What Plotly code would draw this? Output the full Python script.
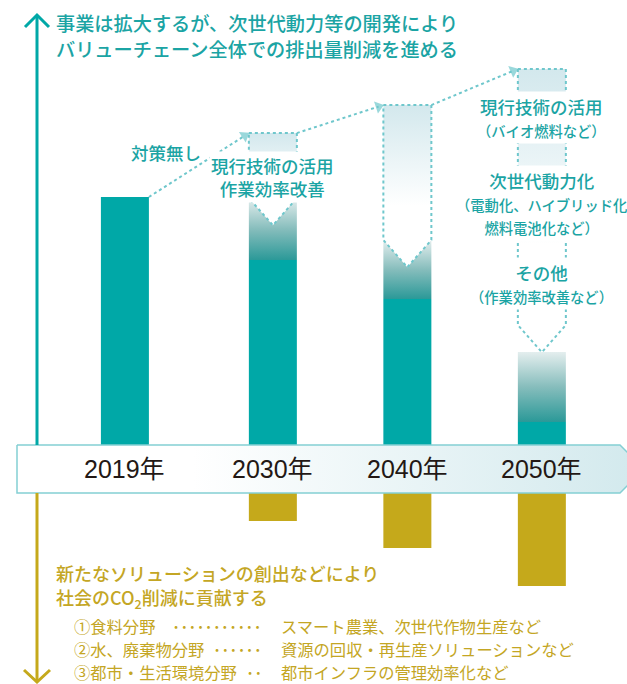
import math
import plotly.graph_objects as go

# ---------------- data ----------------
years = [2019, 2030, 2040, 2050]
year_labels = ["2019年", "2030年", "2040年", "2050年"]
no_action = [100.0, 123.5, 133.8, 147.1]      # emissions without measures (index, 2019 = 100)
reduction_start = [None, 99.6, 84.2, 52.9]    # lower edge of the reduction arrow
fade_top = [None, 99.6, 84.2, 43.0]           # upper edge of the fading part of the bar
emissions = [100.0, 76.8, 62.5, 17.3]         # emissions after measures
contribution = [0.0, -19.1, -29.0, -43.0]     # contribution to society's CO2 reduction

header_lines = ["事業は拡大するが、次世代動力等の開発により",
                "バリューチェーン全体での排出量削減を進める"]
bau_label = "対策無し"
measures_2030 = ["現行技術の活用", "作業効率改善"]
measures_2050 = [("現行技術の活用", ["（バイオ燃料など）"]),
                 ("次世代動力化", ["（電動化、ハイブリッド化", "燃料電池化など）"]),
                 ("その他", ["（作業効率改善など）"])]
society_lines = ["新たなソリューションの創出などにより",
                 "社会のCO<sub>2</sub>削減に貢献する"]
fields = ["①食料分野", "②水、廃棄物分野", "③都市・生活環境分野"]
field_dots = ["･･･････････", "･･････", "･･"]
field_solutions = ["スマート農業、次世代作物生産など",
                   "資源の回収・再生産ソリューションなど",
                   "都市インフラの管理効率化など"]

# ---------------- styling / geometry ----------------
W, H = 627, 684
SX, XREF_YR, XREF_PX = 13.45, 2034.75, 336.75
SY, Y0_PX = 2.72, 469.0
FONT = "Noto Sans CJK JP"
YEAR_FONT = "Liberation Sans, Noto Sans CJK JP"
TEAL = "#00a8a7"
TEAL_TEXT = "#1ba4a4"
GOLD = "#c5a91b"
GOLD_TEXT = "#c4a624"
DOT = "#6fc7cc"
DARK = "#231815"
BW = 48 / SX
DEPTH = 10.0


def xd(px):
    return XREF_YR + (px - XREF_PX) / SX


def yd(py):
    return (Y0_PX - py) / SY


def xp(x):
    return XREF_PX + (x - XREF_YR) * SX


def yp(y):
    return Y0_PX - y * SY


fig = go.Figure()

fig.add_trace(go.Bar(x=years, y=emissions, width=BW, marker=dict(color=TEAL, line=dict(width=0)),
                     hoverinfo="skip"))
fig.add_trace(go.Bar(x=years, y=contribution, width=BW, marker=dict(color=GOLD, line=dict(width=0)),
                     hoverinfo="skip"))

# fading part of the bars (reduced emissions)
for yr, e, ft in zip(years, emissions, fade_top):
    if ft is None:
        continue
    l, r = yr - BW / 2, yr + BW / 2
    fig.add_trace(go.Scatter(
        x=[l, r, r, l, l], y=[e, e, ft, ft, e], mode="lines", fill="toself",
        line=dict(width=0), fillcolor="rgba(0,0,0,0)",
        fillgradient=dict(type="vertical",
                          colorscale=[[0, "#2b9998"], [0.5, "#86bdbc"], [1, "#e4eeee"]]),
        hoverinfo="skip"))

# reduction arrows (dotted boxes)
for yr, top, rs in zip(years, no_action, reduction_start):
    if rs is None:
        continue
    l, r = yr - BW / 2, yr + BW / 2
    fig.add_trace(go.Scatter(
        x=[l, r, r, yr, l, l], y=[top, top, rs, rs - DEPTH, rs, top], mode="lines",
        fill="toself", fillcolor="rgba(0,0,0,0)",
        fillgradient=dict(type="vertical",
                          colorscale=[[0, "#ffffff"], [0.38, "#ffffff"], [1, "#d3e8ed"]]),
        line=dict(color=DOT, width=2, dash="dot"), hoverinfo="skip"))

# connectors with arrow heads
for i in range(len(years) - 1):
    x1, y1 = years[i] + BW / 2, no_action[i]
    x2, y2 = years[i + 1] - BW / 2, no_action[i + 1]
    p1x, p1y, p2x, p2y = xp(x1), yp(y1), xp(x2), yp(y2)
    L = math.hypot(p2x - p1x, p2y - p1y)
    ux, uy = (p2x - p1x) / L, (p2y - p1y) / L
    ex, ey = p2x - ux * 5, p2y - uy * 5
    fig.add_trace(go.Scatter(
        x=[x1, xd(ex)], y=[y1, yd(ey)], mode="lines+markers",
        line=dict(color=DOT, width=2, dash="dot"),
        marker=dict(symbol="triangle-up", size=[0, 11], color=DOT, angleref="previous",
                    line=dict(width=0)),
        hoverinfo="skip"))

# year band
bx = [17, 620, 644, 620, 17, 17]
by = [445, 445, 469, 493, 493, 445]
fig.add_trace(go.Scatter(
    x=[xd(v) for v in bx], y=[yd(v) for v in by], mode="lines", fill="toself",
    fillcolor="rgba(0,0,0,0)",
    fillgradient=dict(type="horizontal",
                      colorscale=[[0, "#ffffff"], [0.28, "#ffffff"], [1, "#d2e9ed"]]),
    line=dict(color="#84cfd4", width=1.5), hoverinfo="skip"))

annotations = []


def ann(text, xpx, ypx, size, color, xanchor="left", weight=400, **kw):
    d = dict(text=text, x=xpx / W, y=1 - ypx / H, xref="paper", yref="paper",
             xanchor=xanchor, yanchor="middle", showarrow=False, borderpad=0,
             font=dict(family=FONT, size=size, color=color, weight=weight))
    d.update(kw)
    return d


for yr, lab in zip(years, year_labels):
    annotations.append(dict(text=lab, x=yr, y=0, xref="x", yref="y", xanchor="center",
                            yanchor="middle", showarrow=False,
                            font=dict(family=YEAR_FONT, size=25, color=DARK)))

for i, t in enumerate(header_lines):
    annotations.append(ann(t, 55, 23 + 26 * i, 19.2, TEAL_TEXT, weight=500))

annotations.append(ann(bau_label, 166, 152, 17.5, TEAL_TEXT, xanchor="center", weight=500))

annotations.append(dict(text="<br>".join(measures_2030), x=years[1], y=1 - 177 / H,
                        xref="x", yref="paper", xanchor="center", yanchor="middle",
                        showarrow=False, bgcolor="white", borderpad=1,
                        font=dict(family=FONT, size=17.5, color=TEAL_TEXT, weight=500)))

centers_2050 = [117.5, 203, 283.5]
for (main, subs), cy in zip(measures_2050, centers_2050):
    txt = main + "".join("<br><span style='font-size:14.3px'>%s</span>" % s for s in subs)
    annotations.append(dict(text=txt, x=years[3], y=1 - cy / H,
                            xref="x", yref="paper", xanchor="center", yanchor="middle",
                            showarrow=False, bgcolor="white", borderpad=2,
                            font=dict(family=FONT, size=17.5, color=TEAL_TEXT, weight=500)))

for i, t in enumerate(society_lines):
    annotations.append(ann(t, 55, 573 + 25 * i, 18, GOLD_TEXT, weight=500))

for i, (f, d, s) in enumerate(zip(fields, field_dots, field_solutions)):
    y = 626 + 23 * i
    annotations.append(ann(f, 73, y, 16.3, GOLD_TEXT))
    annotations.append(ann(d, 263, y, 16.3, GOLD_TEXT, xanchor="right"))
    annotations.append(ann(s, 280, y, 16.3, GOLD_TEXT))


def P(x, y):
    return "%.5f,%.5f" % (x / W, 1 - y / H)


shapes = [
    dict(type="line", xref="paper", yref="paper", x0=37 / W, x1=37 / W, y0=1 - 15 / H, y1=1 - 445 / H,
         line=dict(color=TEAL, width=3), layer="above"),
    dict(type="path", xref="paper", yref="paper", path="M%s L%s L%s" % (P(25, 27), P(37, 15), P(49, 27)),
         line=dict(color=TEAL, width=3), layer="above"),
    dict(type="line", xref="paper", yref="paper", x0=37 / W, x1=37 / W, y0=1 - 493 / H, y1=1 - 682 / H,
         line=dict(color=GOLD, width=3), layer="above"),
    dict(type="path", xref="paper", yref="paper", path="M%s L%s L%s" % (P(24, 670), P(37, 682), P(50, 670)),
         line=dict(color=GOLD, width=3), layer="above"),
]

fig.update_layout(
    width=W, height=H, margin=dict(l=0, r=0, t=0, b=0),
    paper_bgcolor="white", plot_bgcolor="white",
    showlegend=False, barmode="overlay",
    xaxis=dict(range=[xd(0), xd(W)], visible=False, fixedrange=True),
    yaxis=dict(range=[yd(H), yd(0)], visible=False, fixedrange=True),
    annotations=annotations, shapes=shapes,
)

fig.write_html("out.html", config={"displayModeBar": False},
               post_script="document.body.style.margin='0px';document.body.style.overflow='hidden';")
